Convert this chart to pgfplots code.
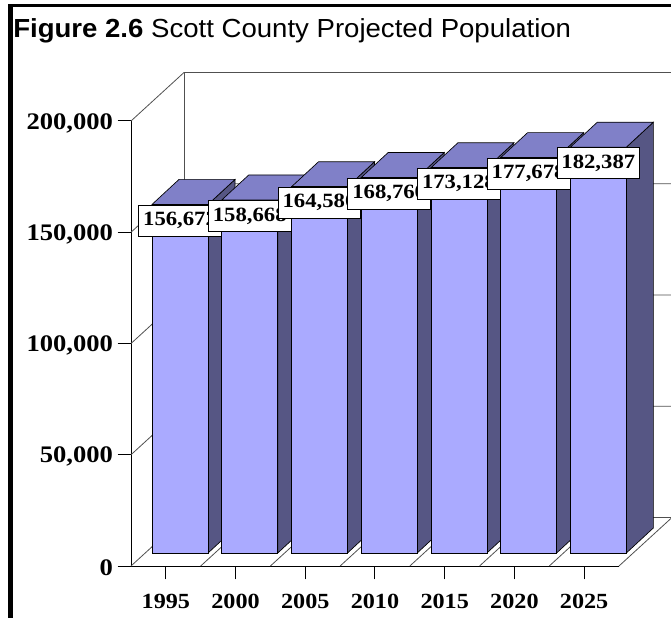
\documentclass[border=0pt]{standalone}
\usepackage{fontspec}
\setmainfont{Liberation Serif}
\newfontfamily\titlefont{Liberation Sans}[FakeStretch=1.055]
\newfontfamily\numfont{Liberation Serif}[FakeStretch=1.12]
\usepackage{pgfplots}
\usepackage{pgfplotstable}
\pgfplotsset{compat=1.18}

\definecolor{barfront}{RGB}{170,170,255}
\definecolor{bartop}{RGB}{128,128,200}
\definecolor{barside}{RGB}{86,86,132}
\definecolor{wallline}{RGB}{80,80,80}

\pgfplotstableread{
x v
0 156672
1 158668
2 164580
3 168760
4 173128
5 177678
6 182387
}\popdata

% 3D geometry (axis units)
\def\DX{0.7603}\def\DY{21798}
\def\FX{0.2037}\def\FY{5843}
\def\HW{0.4017}
\def\BX{0.3873}\def\BY{11236}

\begin{document}
\begin{tikzpicture}[x=0.75pt,y=0.75pt]
\path[use as bounding box] (0,0) rectangle (671,618);
\fill[black] (8.3,0) rectangle (12.7,614);
\fill[black] (8.3,610.7) rectangle (671,614);
\node[anchor=base west, inner sep=0pt] at (13,580.7)
  {\titlefont\fontsize{19.6}{22}\selectfont\textbf{Figure 2.6} Scott County Projected Population};
\begin{axis}[
  at={(98.25pt,39pt)}, anchor=south west,
  scale only axis, width=366pt, height=333.75pt,
  xmin=-0.5, xmax=6.5, ymin=0, ymax=200000,
  clip=false,
  axis x line*=bottom, axis y line*=left,
  axis line style={black, line width=0.75pt, -},
  xtick={0,...,6}, xticklabels={1995,2000,2005,2010,2015,2020,2025},
  ytick={0,50000,100000,150000,200000},
  scaled y ticks=false,
  yticklabel={\pgfmathprintnumber[fixed,precision=0,1000 sep={,},assume math mode=true]{\tick}},
  tick align=outside, major tick length=10pt,
  tick style={black, line width=0.75pt},
  y tick label style={font=\numfont\fontsize{17.8}{20}\selectfont\bfseries, yshift=-1.5pt},
  x tick label style={font=\numfont\fontsize{16.2}{18}\selectfont\bfseries, yshift=-7.5pt},
]
% walls and floor
\addplot[draw=wallline, line width=0.6pt] coordinates {(-0.5,200000) (0.2603,221798) (7.2603,221798) (7.2603,21798)};
\addplot[draw=wallline, line width=0.6pt] coordinates {(0.2603,221798) (0.2603,21798)};
\pgfplotsforeachungrouped \t in {0,50000,100000,150000}{
  \edef\tb{\the\numexpr\t+\DY\relax}
  \edef\cmd{\noexpand\addplot[draw=wallline, line width=0.6pt] coordinates {(-0.5,\t) (0.2603,\tb) (7.2603,\tb)};}\cmd
}
\addplot[draw=wallline, line width=0.6pt] coordinates {(6.5,0) (7.2603,21798)};
\pgfplotsforeachungrouped \b in {0.5,1.5,2.5,3.5,4.5,5.5}{
  \pgfmathsetmacro\bb{\b+\DX}
  \edef\cmd{\noexpand\addplot[draw=wallline, line width=0.6pt] coordinates {(\b,0) (\bb,\DY)};}\cmd
}
% bars
\pgfplotsforeachungrouped \i in {0,...,6}{
  \pgfplotstablegetelem{\i}{v}\of\popdata
  \edef\v{\pgfplotsretval}
  \pgfmathsetmacro\xl{\i-\HW+\FX}
  \pgfmathsetmacro\xr{\i+\HW+\FX}
  \pgfmathsetmacro\xlb{\xl+\BX}
  \pgfmathsetmacro\xrb{\xr+\BX}
  \edef\yb{\FY}
  \edef\ybb{\the\numexpr\FY+\BY\relax}
  \edef\yt{\the\numexpr\v+\FY\relax}
  \edef\ytb{\the\numexpr\v+\FY+\BY\relax}
  \edef\cmd{%
    \noexpand\addplot[fill=barside, draw=black, line width=0.5pt] coordinates {(\xr,\yb) (\xrb,\ybb) (\xrb,\ytb) (\xr,\yt)} --cycle;
    \noexpand\addplot[fill=bartop, draw=black, line width=0.5pt] coordinates {(\xl,\yt) (\xr,\yt) (\xrb,\ytb) (\xlb,\ytb)} --cycle;
    \noexpand\addplot[fill=barfront, draw=black, line width=0.5pt] coordinates {(\xl,\yb) (\xr,\yb) (\xr,\yt) (\xl,\yt)} --cycle;
  }\cmd
}
% value labels
\addplot[draw=none, mark=none, point meta=explicit symbolic,
  nodes near coords={\pgfmathprintnumber[fixed,precision=0,1000 sep={,},assume math mode=true]{\pgfplotspointmeta}},
  every node near coord/.append style={anchor=center, fill=white, draw=black, line width=0.6pt,
    minimum width=62pt, minimum height=23.25pt, inner sep=0pt,
    font=\numfont\fontsize{15.2}{16}\selectfont\bfseries}]
  table[x expr=\thisrow{x}+\FX, y expr=\thisrow{v}-1348, meta=v] {\popdata};
\end{axis}
\end{tikzpicture}
\end{document}
